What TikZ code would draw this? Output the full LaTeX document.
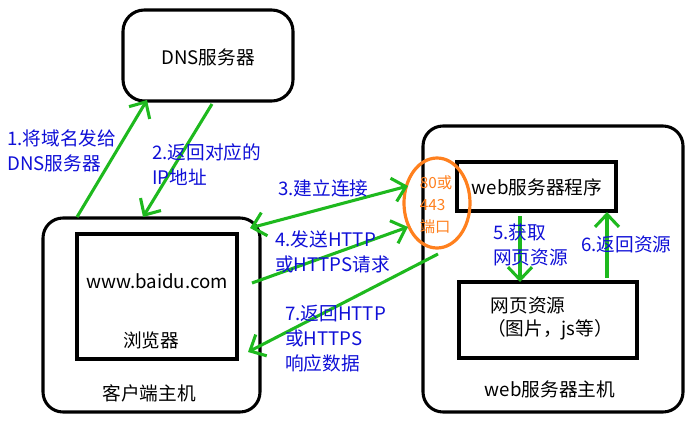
\documentclass[tikz,border=0pt]{standalone}
\usepackage{fontspec}
\setmainfont{Noto Sans CJK SC}
\usetikzlibrary{arrows.meta,shapes.geometric}
\definecolor{flowgreen}{RGB}{30,185,30}
\definecolor{lblblue}{RGB}{15,15,215}
\definecolor{portorange}{RGB}{255,128,30}

\begin{document}
\begin{tikzpicture}[x=0.75pt,y=-0.75pt,
  host/.style={draw,line width=2.3pt,rounded corners=15pt},
  box/.style={draw,line width=2.3pt},
  txt/.style={font=\fontsize{14}{18.75}\selectfont,inner sep=0pt},
  lbl/.style={txt,text=lblblue,align=left,anchor=west},
  flow/.style={flowgreen,line width=2.3pt,-{Straight Barb[length=9.5pt,width=18pt,line width=2.3pt]}}]
\useasboundingbox (0,0) rectangle (695,432);
% boxes
\node[host,minimum width=127.5pt,minimum height=68.25pt,rounded corners=16pt] (dns) at (208,55.5) {};
\node[host,minimum width=162.75pt,minimum height=145.5pt] (client) at (151.5,315) {};
\node[box,minimum width=120pt,minimum height=93.75pt] (browser) at (157,296.5) {};
\node[host,minimum width=195pt,minimum height=214.5pt] (server) at (553,269) {};
\node[box,minimum width=119.25pt,minimum height=36.75pt] (prog) at (536.5,186.5) {};
\node[box,minimum width=133.5pt,minimum height=57pt] (res) at (548,320) {};
\node[draw=portorange,line width=2.4pt,ellipse,minimum width=49.5pt,minimum height=67.5pt] (port) at (437,203) {};
% texts
\node[txt] (dnstxt) at (208,57) {DNS服务器};
\node[txt] (url) at (157,281) {www.baidu.com};
\node[txt] (brtxt) at (151,340) {浏览器};
\node[txt] (clienttxt) at (149,393) {客户端主机};
\node[txt] (progtxt) at (537,187) {web服务器程序};
\node[txt] (restxt) at (528,305) {网页资源};
\node[txt] (restxt2) at (550,330) {（图片，js等）};
\node[txt] (servertxt) at (550,389) {web服务器主机};
\node[txt,text=portorange,align=left,font=\fontsize{11.5}{16.5}\selectfont] (porttxt) at (436,205) {80或\\443\\端口};
% arrow ends
\coordinate (a1) at (77,217);   \coordinate (b1) at (147,100);
\coordinate (a2) at (212,104);  \coordinate (b2) at (143,217);
\coordinate (a3) at (250,228);  \coordinate (b3) at (408,186);
\coordinate (a4) at (252,283);  \coordinate (b4) at (408,227);
\coordinate (a7) at (438,254);  \coordinate (b7) at (248,352);
\coordinate (a5) at (520,216);  \coordinate (b5) at (520,282);
\coordinate (a6) at (607,278);  \coordinate (b6) at (607,212);
\draw[flow] (a1) -- (b1);
\draw[flow] (a2) -- (b2);
\draw[flow,{Straight Barb[length=9.5pt,width=18pt,line width=2.3pt]}-{Straight Barb[length=9.5pt,width=18pt,line width=2.3pt]}] (a3) -- (b3);
\draw[flow] (a4) -- (b4);
\draw[flow] (a7) -- (b7);
\draw[flow] (a5) -- (b5);
\draw[flow] (a6) -- (b6);
% labels
\node[lbl] (l1) at (7,150.5) {1.将域名发给\\DNS服务器};
\node[lbl] (l2) at (152,165) {2.返回对应的\\IP地址};
\node[lbl] (l3) at (278,188) {3.建立连接};
\node[lbl] (l4) at (275,252) {4.发送HTTP\\或HTTPS请求};
\node[lbl] (l7) at (285,339) {7.返回HTTP\\或HTTPS\\响应数据};
\node[lbl] (l5) at (493,245) {5.获取\\网页资源};
\node[lbl] (l6) at (581,244) {6.返回资源};
\end{tikzpicture}
\end{document}
